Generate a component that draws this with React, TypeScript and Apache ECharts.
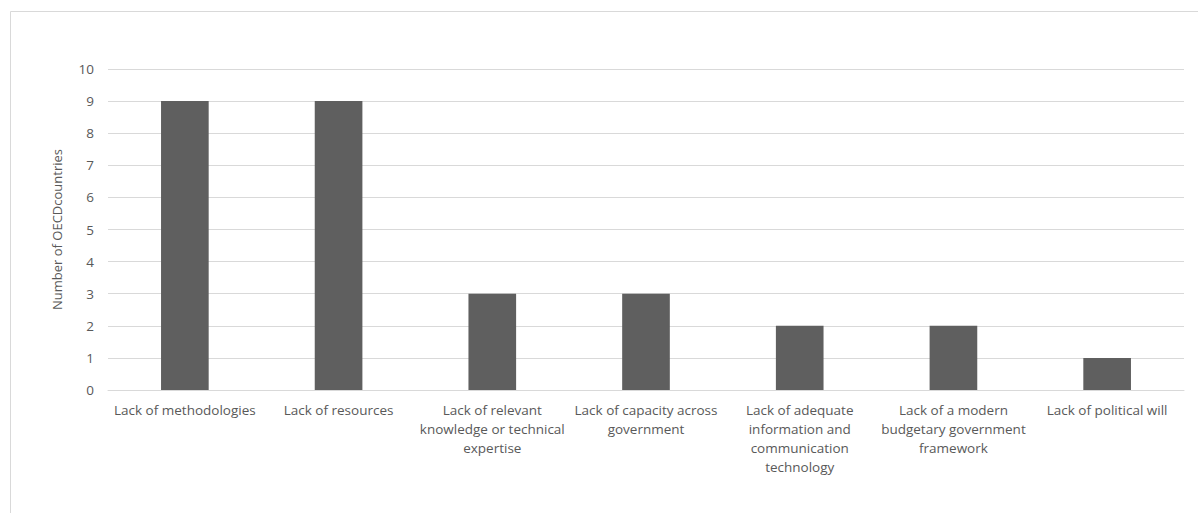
import React, { useEffect, useRef } from "react";
import * as echarts from "echarts";

const categories: string[] = [
  "Lack of methodologies",
  "Lack of resources",
  "Lack of relevant\nknowledge or technical\nexpertise",
  "Lack of capacity across\ngovernment",
  "Lack of adequate\ninformation and\ncommunication\ntechnology",
  "Lack of a modern\nbudgetary government\nframework",
  "Lack of political will",
];

const countries: number[] = [9, 9, 3, 3, 2, 2, 1];

const yAxisTitle = "Number of OECDcountries";

const TEXT = "#595959";
const GRID = "#d9d9d9";
const FONT = "'Open Sans', sans-serif";

export default function App() {
  const ref = useRef<HTMLDivElement>(null);

  useEffect(() => {
    if (!ref.current) return;
    const chart = echarts.init(ref.current, undefined, { renderer: "svg" });
    chart.setOption({
      animation: false,
      backgroundColor: "#ffffff",
      textStyle: { fontFamily: FONT },
      graphic: [
        {
          type: "rect",
          shape: { x: 10.5, y: 11.5, width: 1200, height: 520 },
          style: { fill: "none", stroke: GRID, lineWidth: 1 },
          silent: true,
        },
      ],
      grid: { left: 108, right: 14, top: 69, bottom: 123, containLabel: false },
      xAxis: {
        type: "category",
        data: categories,
        axisTick: { show: false },
        axisLine: { show: true, lineStyle: { color: GRID, width: 1 } },
        axisLabel: {
          color: TEXT,
          fontSize: 13.5,
          fontFamily: FONT,
          lineHeight: 19,
          margin: 10,
          interval: 0,
          align: "center",
        },
      },
      yAxis: {
        type: "value",
        min: 0,
        max: 10,
        interval: 1,
        name: yAxisTitle,
        nameLocation: "middle",
        nameGap: 45,
        nameTextStyle: { color: TEXT, fontSize: 13, fontFamily: FONT },
        axisLine: { show: false },
        axisTick: { show: false },
        axisLabel: { color: TEXT, fontSize: 13.5, fontFamily: FONT, margin: 14 },
        splitLine: { lineStyle: { color: GRID, width: 1 } },
      },
      series: [
        {
          type: "bar",
          data: countries,
          barWidth: "31%",
          itemStyle: { color: "#5f5f5f" },
        },
      ],
    });
    return () => chart.dispose();
  }, []);

  return (
    <div
      ref={ref}
      style={{ position: "fixed", left: 0, top: 0, width: 1198, height: 513 }}
    />
  );
}
